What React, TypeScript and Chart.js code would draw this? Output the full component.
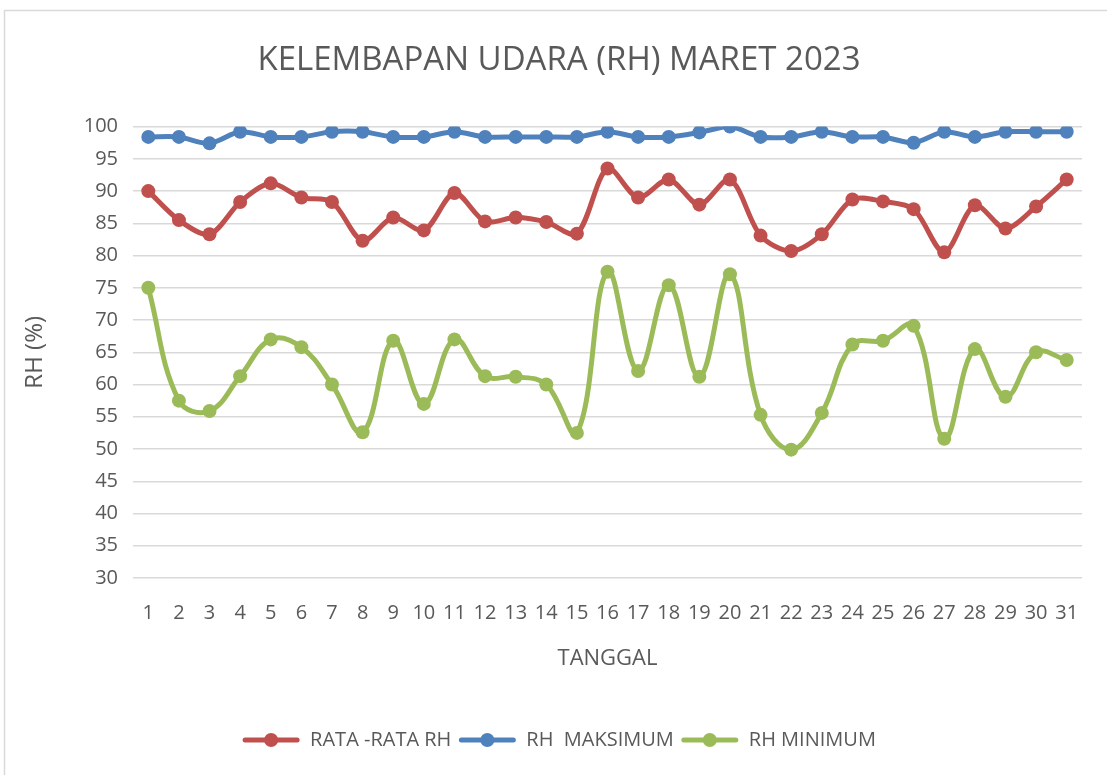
import React, { useEffect, useRef } from "react";
import { Chart, registerables } from "chart.js";

Chart.register(...registerables);

const days: string[] = [
  "1","2","3","4","5","6","7","8","9","10","11","12","13","14","15","16",
  "17","18","19","20","21","22","23","24","25","26","27","28","29","30","31",
];

const rataRata: number[] = [
  90.0, 85.5, 83.3, 88.3, 91.2, 89.0, 88.3, 82.3, 85.9, 83.9, 89.7, 85.3, 85.9, 85.2, 83.4,
  93.5, 89.0, 91.8, 87.9, 91.8, 83.1, 80.7, 83.3, 88.7, 88.4, 87.2, 80.5, 87.8, 84.2, 87.6, 91.8,
];

const rhMaks: number[] = [
  98.4, 98.4, 97.4, 99.2, 98.4, 98.4, 99.2, 99.2, 98.4, 98.4, 99.2, 98.4, 98.4, 98.4, 98.4,
  99.2, 98.4, 98.4, 99.1, 100, 98.4, 98.4, 99.2, 98.4, 98.4, 97.5, 99.2, 98.4, 99.2, 99.2, 99.2,
];

const rhMin: number[] = [
  75.0, 57.5, 55.9, 61.3, 67.0, 65.8, 60.0, 52.6, 66.8, 57.0, 67.0, 61.3, 61.2, 60.0, 52.5,
  77.5, 62.1, 75.4, 61.2, 77.1, 55.3, 49.9, 55.6, 66.2, 66.8, 69.1, 51.6, 65.5, 58.1, 65.0, 63.8,
];

const seriesNames: string[] = ["RATA -RATA RH", "RH  MAKSIMUM", "RH MINIMUM"];
const seriesColors: string[] = ["#C0504D", "#4F81BD", "#9BBB59"];

const yTitle = "RH (%)";
const xTitle = "TANGGAL";
const chartTitle = "KELEMBAPAN UDARA (RH) MARET 2023";

const textColor = "#595959";
const gridColor = "#D9D9D9";
const bodyFont = "'Open Sans', 'DejaVu Sans', sans-serif";

const framePlugin = {
  id: "frame",
  beforeDraw(chart: any) {
    const ctx = chart.ctx;
    ctx.save();
    ctx.strokeStyle = gridColor;
    ctx.lineWidth = 1.5;
    ctx.beginPath();
    ctx.moveTo(4.5, chart.height);
    ctx.lineTo(4.5, 10.5);
    ctx.lineTo(chart.width, 10.5);
    ctx.stroke();
    ctx.restore();
  },
};

const legendSymbolPlugin = {
  id: "legendSymbols",
  afterDraw(chart: any) {
    const legend = chart.legend;
    if (!legend || !legend.legendHitBoxes) return;
    const ctx = chart.ctx;
    const boxWidth = legend.options.labels.boxWidth;
    const fontSize = 20;
    legend.legendHitBoxes.forEach((hb: any, i: number) => {
      const color = seriesColors[i];
      const cy = hb.top + fontSize / 2;
      ctx.save();
      ctx.strokeStyle = color;
      ctx.fillStyle = color;
      ctx.lineWidth = 5;
      ctx.lineCap = "round";
      ctx.beginPath();
      ctx.moveTo(hb.left + 3, cy);
      ctx.lineTo(hb.left + boxWidth - 3, cy);
      ctx.stroke();
      ctx.beginPath();
      ctx.arc(hb.left + boxWidth / 2, cy, 7, 0, Math.PI * 2);
      ctx.fill();
      ctx.restore();
    });
  },
};

export default function App() {
  const canvasRef = useRef<HTMLCanvasElement | null>(null);

  useEffect(() => {
    const canvas = canvasRef.current;
    if (!canvas) return;
    const seriesData = [rataRata, rhMaks, rhMin];
    const chart = new Chart(canvas, {
      type: "line",
      data: {
        labels: days,
        datasets: seriesData.map((d, i) => ({
          label: seriesNames[i],
          data: d,
          borderColor: seriesColors[i],
          backgroundColor: seriesColors[i],
          pointBackgroundColor: seriesColors[i],
          pointBorderColor: seriesColors[i],
          borderWidth: 5,
          pointRadius: 7,
          pointBorderWidth: 0,
          tension: i === 2 ? 0.4 : 0.3,
          fill: false,
        })),
      },
      options: {
        animation: false,
        responsive: true,
        maintainAspectRatio: false,
        layout: { padding: { left: 36, right: 25, top: 0, bottom: 15 } },
        plugins: {
          title: {
            display: true,
            text: chartTitle,
            color: textColor,
            font: { family: bodyFont, size: 33, weight: "normal" },
            padding: { top: 41, bottom: 46 },
          },
          legend: {
            display: true,
            position: "bottom",
            labels: {
              color: textColor,
              font: { family: bodyFont, size: 20 },
              boxWidth: 58,
              boxHeight: 5,
              padding: 7,
              generateLabels: (ch: any) =>
                Chart.defaults.plugins.legend.labels
                  .generateLabels(ch)
                  .map((l: any) => ({ ...l, fillStyle: "rgba(0,0,0,0)", strokeStyle: "rgba(0,0,0,0)", lineWidth: 0 })),
            },
          },
          tooltip: { enabled: false },
        },
        scales: {
          x: {
            offset: true,
            grid: { display: false, drawTicks: false },
            border: { display: false },
            ticks: {
              color: textColor,
              font: { family: bodyFont, size: 20 },
              padding: 23,
              maxRotation: 0,
              autoSkip: false,
            },
            title: {
              display: true,
              text: xTitle,
              color: textColor,
              font: { family: bodyFont, size: 22 },
              padding: { top: 0, bottom: 51 },
            },
            afterFit(scale: any) {
              scale.height = 145;
            },
          },
          y: {
            min: 30,
            max: 100,
            grid: { color: gridColor, lineWidth: 1.5, drawTicks: false },
            border: { display: false },
            ticks: {
              stepSize: 5,
              color: textColor,
              font: { family: bodyFont, size: 20 },
              padding: 15,
            },
            title: {
              display: true,
              text: yTitle,
              color: textColor,
              font: { family: bodyFont, size: 24 },
              padding: { top: -15, bottom: 0 },
            },
            afterFit(scale: any) {
              scale.width = 97;
            },
          },
        },
      },
      plugins: [framePlugin, legendSymbolPlugin],
    });
    return () => chart.destroy();
  }, []);

  return (
    <div style={{ position: "absolute", left: 0, top: 0, width: 1107, height: 775, background: "#fff" }}>
      <canvas ref={canvasRef} />
    </div>
  );
}
